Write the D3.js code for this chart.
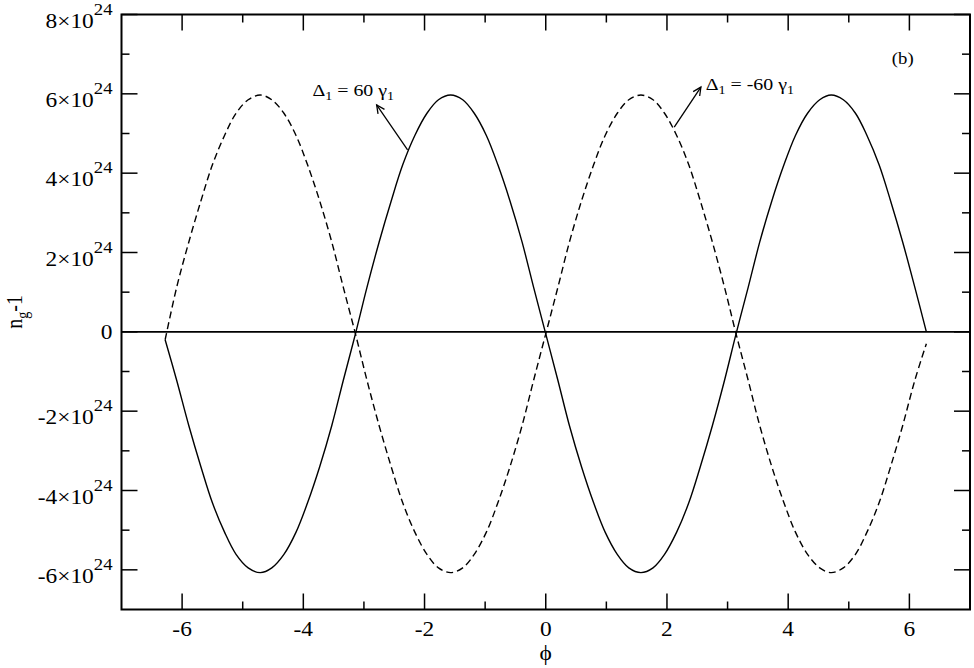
<!DOCTYPE html>
<html>
<head>
<meta charset="utf-8">
<script src="https://cdn.jsdelivr.net/npm/d3@7"></script>
<style>
  html, body { margin: 0; padding: 0; background: #fff; }
  text { font-family: "Liberation Serif", "Times New Roman", serif; fill: #000; }
</style>
</head>
<body>
<div id="chart"></div>
<script>
// values, y in units of 10^24
var phi = [-6.28, -6.09, -5.89, -5.69, -5.50, -5.30, -5.11, -4.91, -4.71, -4.52, -4.32, -4.12, -3.93, -3.73, -3.53, -3.34,
  -3.14, -2.95, -2.75, -2.55, -2.36, -2.16, -1.96, -1.77, -1.57, -1.37, -1.18, -0.98, -0.79, -0.59, -0.39, -0.20,
  0.00, 0.20, 0.39, 0.59, 0.79, 0.98, 1.18, 1.37, 1.57, 1.77, 1.96, 2.16, 2.36, 2.55, 2.75, 2.95,
  3.14, 3.34, 3.53, 3.73, 3.93, 4.12, 4.32, 4.52, 4.71, 4.91, 5.11, 5.30, 5.50, 5.69, 5.89, 6.09, 6.28];

var solidVals = [-0.20, -1.22, -2.36, -3.40, -4.31, -5.05, -5.61, -5.95, -6.07, -5.95, -5.61, -5.05, -4.31, -3.40, -2.36, -1.22,
  -0.05, 1.12, 2.26, 3.30, 4.21, 4.95, 5.51, 5.85, 5.97, 5.85, 5.51, 4.95, 4.21, 3.30, 2.26, 1.12,
  -0.05, -1.22, -2.36, -3.40, -4.31, -5.05, -5.61, -5.95, -6.07, -5.95, -5.61, -5.05, -4.31, -3.40, -2.36, -1.22,
  -0.05, 1.12, 2.26, 3.30, 4.21, 4.95, 5.51, 5.85, 5.97, 5.85, 5.51, 4.95, 4.21, 3.30, 2.26, 1.12, 0.00];

var dashedVals = [-0.20, 1.12, 2.26, 3.30, 4.21, 4.95, 5.51, 5.85, 5.97, 5.85, 5.51, 4.95, 4.21, 3.30, 2.26, 1.12,
  -0.05, -1.22, -2.36, -3.40, -4.31, -5.05, -5.61, -5.95, -6.07, -5.95, -5.61, -5.05, -4.31, -3.40, -2.36, -1.22,
  -0.05, 1.12, 2.26, 3.30, 4.21, 4.95, 5.51, 5.85, 5.97, 5.85, 5.51, 4.95, 4.21, 3.30, 2.26, 1.12,
  -0.05, -1.22, -2.36, -3.40, -4.31, -5.05, -5.61, -5.95, -6.07, -5.95, -5.61, -5.05, -4.31, -3.40, -2.36, -1.22, -0.30];

var xMajor = [-6, -4, -2, 0, 2, 4, 6];
var xMinor = [-5, -3, -1, 1, 3, 5];
var yMajor = [-6, -4, -2, 0, 2, 4, 6, 8];
var yMinor = [-5, -3, -1, 1, 3, 5, 7];
var yExp = "24";

// annotations, in data units
var labels = [
  {x: -3.85, y: 5.94, name: "60"},
  {x: 2.64, y: 6.09, name: "-60"}
];
var arrows = [
  {x1: -2.28, y1: 4.59, x2: -2.79, y2: 5.72},
  {x1: 2.12, y1: 5.16, x2: 2.56, y2: 6.17}
];
var panel = {x: 5.71, y: 6.75, text: "(b)"};

var W = 974, H = 668;
var margin = {top: 14.5, right: 4, bottom: 58.5, left: 121.5};
var SX = 1.17; // the glyphs in the picture are a bit wider than they are tall

var svg = d3.select("#chart").append("svg")
  .attr("width", W).attr("height", H);

var x = d3.scaleLinear().domain([-7, 7]).range([margin.left, W - margin.right]);
var y = d3.scaleLinear().domain([-7, 8]).range([H - margin.bottom, margin.top]);

var x0 = x.range()[0], x1 = x.range()[1], y0 = y.range()[0], y1 = y.range()[1];

function at(px, py) {
  return "translate(" + px + "," + py + ") scale(" + SX + ",1)";
}

// ticks, inward on all four sides
var bigT = 16, smallT = 8;
var tk = svg.append("g").attr("stroke", "#000").attr("stroke-width", 1.5);
xMajor.concat(xMinor).forEach(function(v){
  var len = xMajor.indexOf(v) >= 0 ? bigT : smallT;
  tk.append("line").attr("x1", x(v)).attr("x2", x(v)).attr("y1", y0).attr("y2", y0 - len);
  tk.append("line").attr("x1", x(v)).attr("x2", x(v)).attr("y1", y1).attr("y2", y1 + len);
});
yMajor.concat(yMinor).forEach(function(v){
  var len = yMajor.indexOf(v) >= 0 ? bigT : smallT;
  tk.append("line").attr("y1", y(v)).attr("y2", y(v)).attr("x1", x0).attr("x2", x0 + len);
  tk.append("line").attr("y1", y(v)).attr("y2", y(v)).attr("x1", x1).attr("x2", x1 - len);
});

// zero line
svg.append("line")
  .attr("x1", x0).attr("x2", x1).attr("y1", y(0)).attr("y2", y(0))
  .attr("stroke", "#000").attr("stroke-width", 1.6);

// frame
svg.append("rect")
  .attr("x", x0).attr("y", y1).attr("width", x1 - x0).attr("height", y0 - y1)
  .attr("fill", "none").attr("stroke", "#000").attr("stroke-width", 2);

// curves
var line = d3.line()
  .curve(d3.curveCatmullRom)
  .x(function(d){ return x(d[0]); })
  .y(function(d){ return y(d[1]); });

svg.append("path")
  .attr("d", line(d3.zip(phi, dashedVals)))
  .attr("fill", "none").attr("stroke", "#000").attr("stroke-width", 1.4)
  .attr("stroke-dasharray", "7,4");

svg.append("path")
  .attr("d", line(d3.zip(phi, solidVals)))
  .attr("fill", "none").attr("stroke", "#000").attr("stroke-width", 1.4);

// x tick labels
svg.append("g").selectAll("text")
  .data(xMajor).enter().append("text")
    .attr("transform", function(d){ return at(x(d), y0 + 26.5); })
    .attr("text-anchor", "middle")
    .style("font-size", "20px")
    .text(function(d){ return String(d); });

// y tick labels
yMajor.forEach(function(v){
  var t = svg.append("text")
    .attr("transform", at(x0 - 9, y(v) + 13))
    .attr("text-anchor", "end")
    .style("font-size", "20px");
  if (v === 0) {
    t.attr("transform", at(x0 - 9, y(v) + 7)).text("0");
  } else {
    t.append("tspan").text(v + "\u00d710");
    t.append("tspan").attr("dy", -13).style("font-size", "16px").text(yExp);
  }
});

// axis titles
svg.append("text")
  .attr("transform", at((x0 + x1) / 2, H - 8))
  .attr("text-anchor", "middle")
  .style("font-size", "20px")
  .text("\u03d5");

var yt = svg.append("text")
  .attr("transform", "translate(22," + (y(0) - 20) + ") rotate(-90) scale(1," + SX + ")")
  .attr("text-anchor", "middle")
  .style("font-size", "20px");
yt.append("tspan").text("n");
yt.append("tspan").attr("dy", 5).style("font-size", "14px").text("g");
yt.append("tspan").attr("dy", -5).text("-1");

// annotation labels
labels.forEach(function(l){
  var t = svg.append("text")
    .attr("transform", at(x(l.x), y(l.y)))
    .style("font-size", "17px");
  t.append("tspan").text("\u0394");
  t.append("tspan").attr("dy", 4).style("font-size", "12px").text("1");
  t.append("tspan").attr("dy", -4).text(" = " + l.name + " \u03b3");
  t.append("tspan").attr("dy", 4).style("font-size", "12px").text("1");
});

svg.append("text")
  .attr("transform", at(x(panel.x), y(panel.y)))
  .style("font-size", "16px")
  .text(panel.text);

// arrows with open heads
var ag = svg.append("g").attr("stroke", "#000").attr("stroke-width", 1.3).attr("fill", "none");
arrows.forEach(function(a){
  var ax = x(a.x1), ay = y(a.y1), bx = x(a.x2), by = y(a.y2);
  var ang = Math.atan2(by - ay, bx - ax);
  var hl = 9, ha = 0.45;
  ag.append("line").attr("x1", ax).attr("y1", ay).attr("x2", bx).attr("y2", by);
  ag.append("path").attr("d",
    "M" + (bx - hl * Math.cos(ang - ha)) + "," + (by - hl * Math.sin(ang - ha)) +
    "L" + bx + "," + by +
    "L" + (bx - hl * Math.cos(ang + ha)) + "," + (by - hl * Math.sin(ang + ha)));
});
</script>
</body>
</html>
